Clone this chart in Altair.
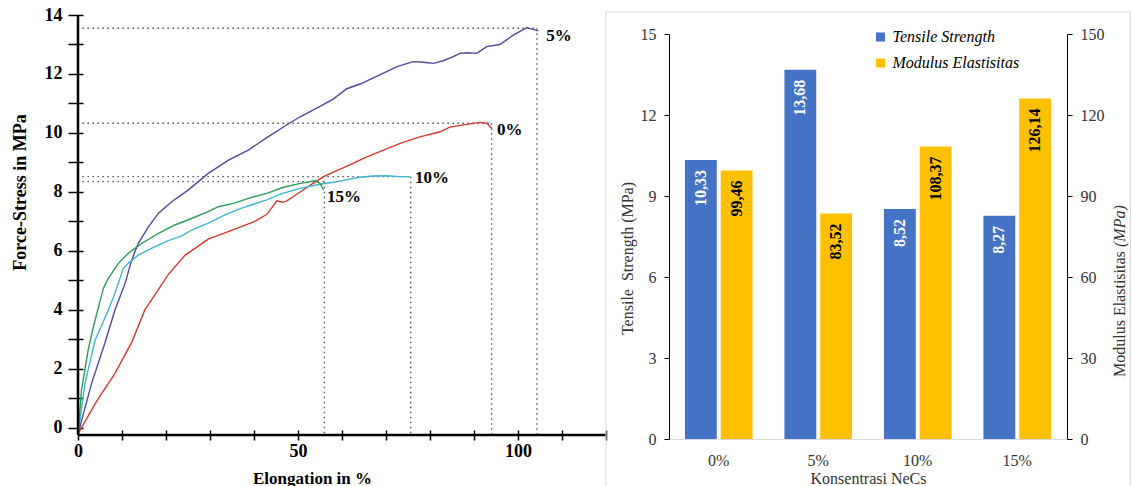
import altair as alt
import pandas as pd

SERIF = "Liberation Serif"

# ---------------- Stress-strain curves (elongation %, force-stress MPa) ----------------
elong_0 = [0, 4.0, 8.4, 12.2, 15.2, 18.3, 20.5, 24.3, 29.6, 34.9, 40.2, 43.0, 45.2, 46.5,
           47.5, 50.5, 53.5, 55.8, 58.8, 61.8, 65.0, 68.6, 73.2, 77.7, 82.3, 84.5, 88.3,
           91.4, 92.9, 94.0]
stress_0 = [-0.2, 0.85, 1.85, 2.9, 4.0, 4.7, 5.2, 5.85, 6.4, 6.7, 7.0, 7.25, 7.7, 7.65,
            7.7, 8.0, 8.3, 8.52, 8.72, 8.92, 9.15, 9.37, 9.65, 9.87, 10.04, 10.2, 10.29,
            10.36, 10.33, 10.16]

elong_5 = [0, 3.1, 6.1, 8.4, 10.7, 12.2, 13.7, 16.0, 18.3, 21.3, 25.1, 29.6, 34.2, 38.7,
           43.0, 47.4, 50.5, 55.0, 58.0, 61.1, 64.1, 68.6, 72.5, 76.2, 78.5, 80.8, 83.0,
           85.3, 86.8, 88.5, 90.6, 92.9, 95.9, 98.9, 102.0, 104.6]
stress_5 = [-0.2, 1.52, 2.87, 4.0, 4.9, 5.69, 6.26, 6.82, 7.28, 7.67, 8.07, 8.63, 9.08,
            9.42, 9.85, 10.27, 10.55, 10.9, 11.15, 11.5, 11.66, 11.97, 12.25, 12.42, 12.4,
            12.36, 12.45, 12.59, 12.7, 12.72, 12.7, 12.93, 13.0, 13.32, 13.57, 13.46]

elong_10 = [0, 1.6, 3.9, 6.9, 8.4, 10.3, 11.4, 13.7, 16.7, 20.5, 23.6, 25.8, 29.6, 33.4,
            37.2, 40.2, 42.9, 46.5, 50.5, 55.0, 58.0, 61.0, 64.0, 67.1, 70.0, 73.2, 75.5]
stress_10 = [-0.2, 1.52, 2.98, 4.0, 4.57, 5.41, 5.58, 5.86, 6.09, 6.35, 6.51, 6.71, 6.94,
             7.22, 7.45, 7.6, 7.73, 7.95, 8.12, 8.26, 8.33, 8.41, 8.5, 8.54, 8.55, 8.52, 8.52]

elong_15 = [0, 0.8, 2.3, 3.5, 5.75, 6.9, 9.2, 11.4, 14.5, 18.3, 22.0, 25.8, 29.6, 31.9,
            35.5, 39.1, 42.9, 46.7, 50.5, 53.9, 55.0, 55.8]
stress_15 = [-0.2, 1.29, 2.64, 3.43, 4.73, 5.07, 5.58, 5.92, 6.26, 6.6, 6.88, 7.1, 7.33,
             7.5, 7.62, 7.8, 7.95, 8.16, 8.29, 8.38, 8.29, 8.07]

curve_names = ["0%", "5%", "10%", "15%"]
curve_colors = ["#d8392f", "#4b4a9e", "#3db5d4", "#2c9b5b"]

# Break points marked by dotted guides, and where each curve's name is written
break_elong = [94.0, 104.3, 75.6, 56.0]
break_stress = [10.33, 13.55, 8.52, 8.35]
label_elong = [95.2, 106.4, 76.6, 56.6]
label_stress = [10.1, 13.3, 8.47, 7.83]

X_MAX = 120
Y_MIN, Y_MAX = -0.24, 14
GUIDE_START = 1.0

# ---------------- Bar chart values ----------------
konsentrasi = ["0%", "5%", "10%", "15%"]
tensile_strength = [10.33, 13.68, 8.52, 8.27]
modulus_elastisitas = [99.46, 83.52, 108.37, 126.14]
TS = "Tensile Strength"
ME = "Modulus Elastisitas"

# ---------------- Tables ----------------
rows = []
for name, xs_, ys_ in zip(curve_names,
                          [elong_0, elong_5, elong_10, elong_15],
                          [stress_0, stress_5, stress_10, stress_15]):
    for i, (a, b) in enumerate(zip(xs_, ys_)):
        rows.append({"seri": name, "idx": i, "elong": a, "stress": b})
curves = pd.DataFrame(rows)

guides = pd.DataFrame({
    "seri": curve_names, "x0": [GUIDE_START] * 4, "bx": break_elong, "by": break_stress,
    "ybot": [Y_MIN] * 4, "lx": label_elong, "ly": label_stress,
})

def fmt(v):
    return f"{v:.2f}".replace(".", ",")

bars = pd.DataFrame(
    [{"konsentrasi": k, "param": TS, "nilai": v, "label": fmt(v)}
     for k, v in zip(konsentrasi, tensile_strength)]
    + [{"konsentrasi": k, "param": ME, "nilai": v, "label": fmt(v)}
       for k, v in zip(konsentrasi, modulus_elastisitas)]
)

# ---------------- Left panel: force-stress vs elongation ----------------
xs = alt.Scale(domain=[0, X_MAX], nice=False, zero=False)
ys = alt.Scale(domain=[Y_MIN, Y_MAX], nice=False, zero=False)

x_axis = alt.Axis(
    values=list(range(0, X_MAX + 1, 10)),
    labelExpr="datum.value % 50 == 0 ? datum.label : ''",
    domain=False, grid=False, offset=-5, tickSize=10, tickColor="black", tickWidth=1.5,
    labelFont=SERIF, labelFontWeight="bold", labelFontSize=18, labelColor="black",
    labelPadding=2, labelAngle=0, labelFlush=False,
    title="Elongation in %", titleFont=SERIF, titleFontWeight="bold", titleFontSize=17,
    titleColor="black", titleX=234, titleY=48, titleAlign="center", titleBaseline="middle",
)
y_axis = alt.Axis(
    values=list(range(0, 15)),
    labelExpr="datum.value % 2 == 0 ? datum.label : ''",
    domain=False, grid=False, offset=-5, tickSize=15, tickColor="black", tickWidth=1.5,
    labelFont=SERIF, labelFontWeight="bold", labelFontSize=18, labelColor="black",
    labelPadding=6, labelFlush=False,
    title="Force-Stress in MPa", titleFont=SERIF, titleFontWeight="bold", titleFontSize=18,
    titleColor="black", titleX=-63, titleY=177, titleAngle=270, titleAlign="center",
    titleBaseline="middle",
)

lines = alt.Chart(curves).mark_line(strokeWidth=1.4).encode(
    x=alt.X("elong:Q", scale=xs, axis=x_axis),
    y=alt.Y("stress:Q", scale=ys, axis=y_axis),
    color=alt.Color("seri:N", scale=alt.Scale(domain=curve_names, range=curve_colors),
                    legend=None),
    order="idx:Q",
)

dot_style = dict(color="#555555", strokeDash=[1.5, 3.5], strokeWidth=1.4)
h_guides = alt.Chart(guides).mark_rule(**dot_style).encode(
    x=alt.X("x0:Q", scale=xs, axis=x_axis), x2="bx:Q",
    y=alt.Y("by:Q", scale=ys, axis=y_axis),
)
v_guides = alt.Chart(guides).mark_rule(**dot_style).encode(
    x=alt.X("bx:Q", scale=xs, axis=x_axis),
    y=alt.Y("by:Q", scale=ys, axis=y_axis), y2="ybot:Q",
)
end_labels = alt.Chart(guides).mark_text(
    align="left", baseline="middle", font=SERIF, fontWeight="bold", fontSize=17,
    color="black",
).encode(
    x=alt.X("lx:Q", scale=xs, axis=x_axis),
    y=alt.Y("ly:Q", scale=ys, axis=y_axis),
    text="seri:N",
)

frame = pd.DataFrame({"x0": [0], "x1": [X_MAX], "y0": [Y_MIN], "y1": [Y_MAX]})
y_line = alt.Chart(frame).mark_rule(color="black", strokeWidth=2.5).encode(
    x=alt.X("x0:Q", scale=xs, axis=x_axis),
    y=alt.Y("y0:Q", scale=ys, axis=y_axis), y2="y1:Q",
)
x_line = alt.Chart(frame).mark_rule(color="black", strokeWidth=2.5).encode(
    x=alt.X("x0:Q", scale=xs, axis=x_axis), x2="x1:Q",
    y=alt.Y("y0:Q", scale=ys, axis=y_axis),
)

left = alt.layer(h_guides, v_guides, lines, end_labels, y_line, x_line).properties(
    width=528, height=420
)

# ---------------- Right panel: grouped bars with two y axes ----------------
BAR_W, BAR_H = 398, 424
Y_RANGE = [BAR_H, 19]
blue, yellow = "#4472C4", "#FFC000"

x_band = alt.X(
    "konsentrasi:N", sort=konsentrasi,
    scale=alt.Scale(domain=konsentrasi, paddingInner=0.32, paddingOuter=0.16),
    axis=alt.Axis(
        domainColor="#d9d9d9", domainWidth=1, ticks=False, grid=False, labelAngle=0,
        labelFont=SERIF, labelFontSize=16, labelColor="#333333", labelPadding=13,
        title="Konsentrasi NeCs", titleFont=SERIF, titleFontSize=16,
        titleFontWeight="normal", titleColor="#333333", titlePadding=2,
    ),
)
x_off = alt.XOffset(
    "param:N", sort=[TS, ME],
    scale=alt.Scale(domain=[TS, ME], paddingInner=0.11, paddingOuter=0),
)
color_enc = alt.Color(
    "param:N", scale=alt.Scale(domain=[TS, ME], range=[blue, yellow]),
    legend=alt.Legend(
        orient="none", legendX=203.5, legendY=14, title=None, padding=0,
        labelFont=SERIF, labelFontStyle="italic", labelFontSize=16, labelColor="black",
        symbolType="square", symbolSize=81, symbolStrokeWidth=0, rowPadding=10,
        labelOffset=4,
    ),
)

ts_axis = alt.Axis(
    orient="left", values=[0, 3, 6, 9, 12, 15], domainColor="black", tickColor="black",
    tickSize=5, grid=False, labelFont=SERIF, labelFontSize=16, labelColor="#333333",
    labelPadding=8, title="Tensile\u00a0 Strength (MPa)", titleFont=SERIF,
    titleFontSize=16, titleFontWeight="normal", titleColor="#333333", titleX=-42,
    titleY=243, titleAngle=270, titleAlign="center", titleBaseline="middle",
)
me_axis = alt.Axis(
    orient="right", values=[0, 30, 60, 90, 120, 150], domainColor="black",
    tickColor="black", tickSize=5, grid=False, labelFont=SERIF, labelFontSize=16,
    labelColor="#333333", labelPadding=8, title=None,
)

ts_base = alt.Chart(bars).transform_filter(alt.datum.param == TS)
me_base = alt.Chart(bars).transform_filter(alt.datum.param == ME)
ts_y = alt.Y("nilai:Q", scale=alt.Scale(domain=[0, 15], range=Y_RANGE, nice=False),
             axis=ts_axis)
me_y = alt.Y("nilai:Q", scale=alt.Scale(domain=[0, 150], range=Y_RANGE, nice=False),
             axis=me_axis)

label_style = dict(angle=270, align="right", baseline="middle", yOffset=10, font=SERIF,
                   fontWeight="bold", fontSize=16)

ts_layer = alt.layer(
    ts_base.mark_bar().encode(x=x_band, xOffset=x_off, y=ts_y, color=color_enc),
    ts_base.mark_text(color="white", **label_style).encode(
        x=x_band, xOffset=x_off, y=ts_y, text="label:N"),
)
me_layer = alt.layer(
    me_base.mark_bar().encode(x=x_band, xOffset=x_off, y=me_y, color=color_enc),
    me_base.mark_text(color="black", **label_style).encode(
        x=x_band, xOffset=x_off, y=me_y, text="label:N"),
)

one = pd.DataFrame({"k": [0]})
panel_box = alt.Chart(one).mark_rect(fillOpacity=0, stroke="#d9d9d9", strokeWidth=1).encode(
    x=alt.value(-63), x2=alt.value(461.5), y=alt.value(-3), y2=alt.value(540),
)
me_title = alt.Chart(one).mark_text(
    angle=270, align="left", baseline="middle", font=SERIF, fontSize=16, color="#333333",
).encode(x=alt.value(451), y=alt.value(362), text=alt.value("Modulus Elastisitas"))
me_title_unit = alt.Chart(one).mark_text(
    angle=270, align="left", baseline="middle", font=SERIF, fontSize=16, color="#333333",
    fontStyle="italic",
).encode(x=alt.value(451), y=alt.value(232), text=alt.value("(MPa)"))

right = alt.layer(
    panel_box, alt.layer(ts_layer, me_layer).resolve_scale(y="independent"),
    me_title, me_title_unit,
).properties(width=BAR_W, height=BAR_H)

chart = alt.hconcat(left, right, spacing=63, bounds="flush").resolve_scale(
    color="independent"
).properties(
    padding={"left": 11, "top": 6, "right": 0, "bottom": 0}
).configure(font=SERIF).configure_view(stroke=None)

chart.save("out.html", embed_options={"renderer": "svg", "actions": False})
